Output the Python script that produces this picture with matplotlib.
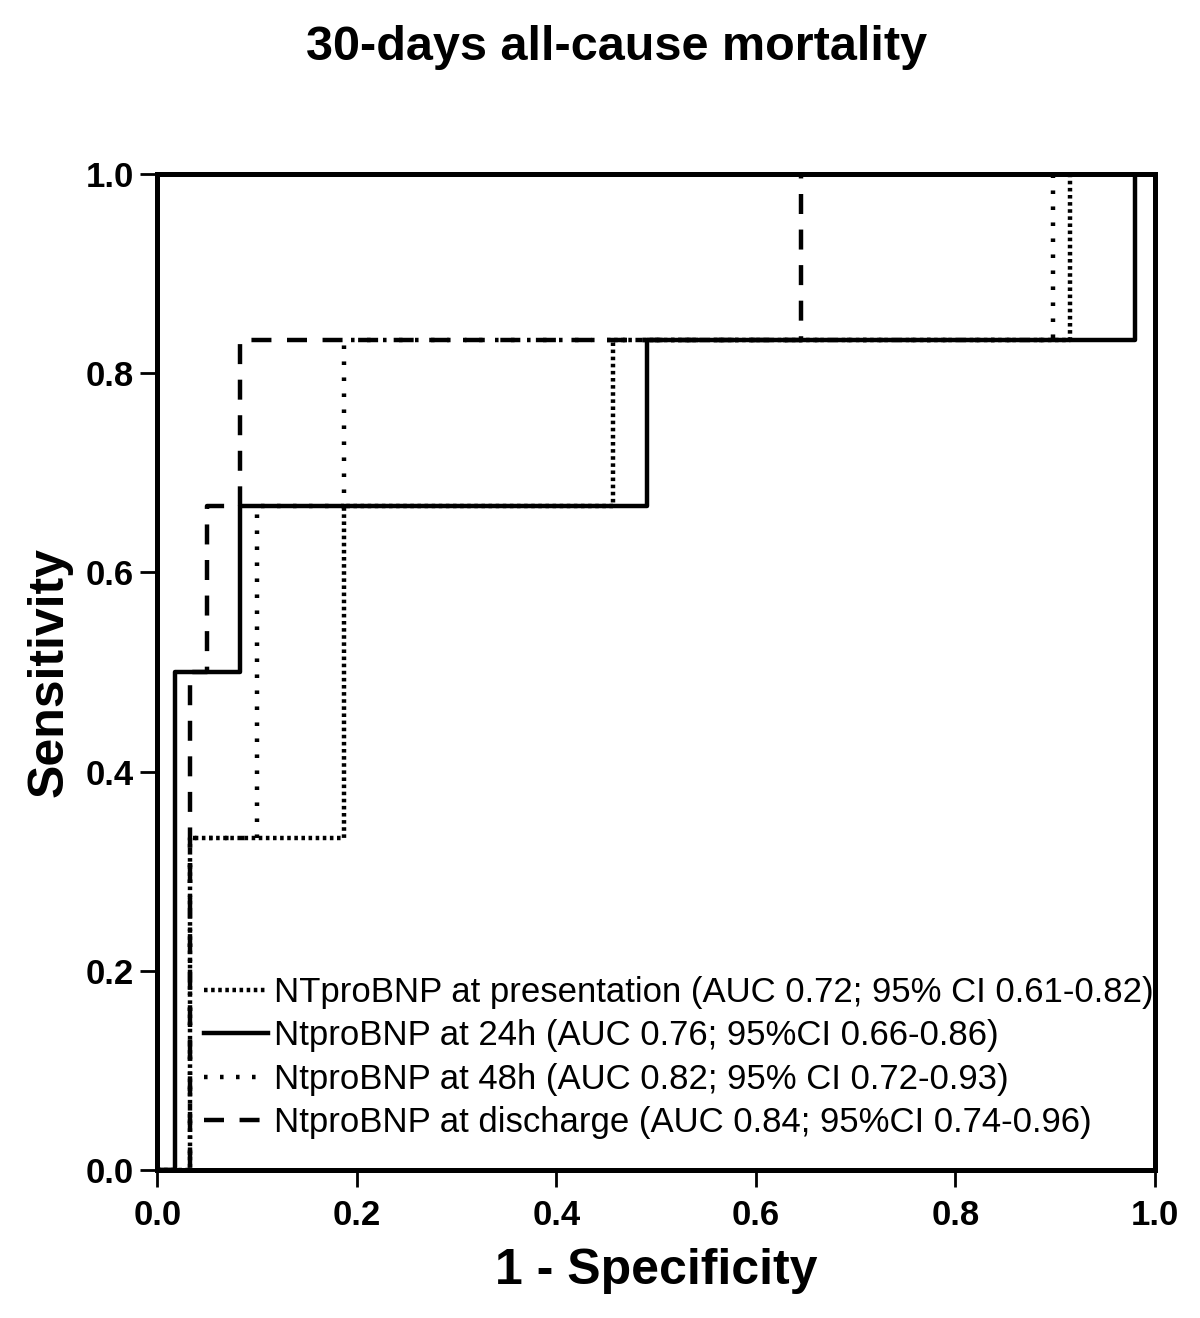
import numpy as np
import matplotlib
matplotlib.use('Agg')
import matplotlib.pyplot as plt

plt.rcParams['font.family'] = ['Liberation Sans', 'DejaVu Sans']

# ROC 곡선 데이터
pres_x = [0, 0.033, 0.033, 0.187, 0.187, 0.457, 0.457, 0.915, 0.915, 1.0]
pres_y = [0, 0, 0.333, 0.333, 0.667, 0.667, 0.833, 0.833, 1.0, 1.0]

h24_x = [0, 0.018, 0.018, 0.083, 0.083, 0.491, 0.491, 0.98, 0.98, 1.0]
h24_y = [0, 0, 0.5, 0.5, 0.667, 0.667, 0.833, 0.833, 1.0, 1.0]

h48_x = [0, 0.033, 0.033, 0.1, 0.1, 0.187, 0.187, 0.898, 0.898, 1.0]
h48_y = [0, 0, 0.333, 0.333, 0.667, 0.667, 0.833, 0.833, 1.0, 1.0]

dis_x = [0, 0.033, 0.033, 0.05, 0.05, 0.083, 0.083, 0.645, 0.645, 1.0]
dis_y = [0, 0, 0.5, 0.5, 0.667, 0.667, 0.833, 0.833, 1.0, 1.0]

labels = [
    'NTproBNP at presentation (AUC 0.72; 95% CI 0.61-0.82)',
    'NtproBNP at 24h (AUC 0.76; 95%CI 0.66-0.86)',
    'NtproBNP at 48h (AUC 0.82; 95% CI 0.72-0.93)',
    'NtproBNP at discharge (AUC 0.84; 95%CI 0.74-0.96)',
]
ticks = [0.0, 0.2, 0.4, 0.6, 0.8, 1.0]

fig = plt.figure(figsize=(12, 13.18), dpi=100)
ax = fig.add_axes([0.131, 0.1123, 0.8315, 0.7557])

lw = 3.2
ax.plot(pres_x, pres_y, color='black', lw=lw, linestyle=(0, (0.8, 0.8)), label=labels[0])
ax.plot(h24_x, h24_y, color='black', lw=lw, linestyle='-', label=labels[1])
ax.plot(h48_x, h48_y, color='black', lw=lw, linestyle=(0, (0.8, 2.8)), label=labels[2])
ax.plot(dis_x, dis_y, color='black', lw=lw, linestyle=(0, (4.5, 3.5)), label=labels[3])

ax.set_xlim(0, 1)
ax.set_ylim(0, 1)
ax.set_xticks(ticks)
ax.set_yticks(ticks)
ax.set_xticklabels([f'{t:.1f}' for t in ticks], fontsize=25, fontweight='bold')
ax.set_yticklabels([f'{t:.1f}' for t in ticks], fontsize=25, fontweight='bold')
ax.tick_params(direction='out', length=12, width=2, pad=5)
ax.tick_params(axis='x', pad=9)
for s in ax.spines.values():
    s.set_linewidth(3.6)

ax.set_xlabel('1 - Specificity', fontsize=36, fontweight='bold')
ax.set_ylabel('Sensitivity', fontsize=36, fontweight='bold')
ax.xaxis.set_label_coords(0.5, -0.078)
ax.yaxis.set_label_coords(-0.085, 0.5)
fig.text(0.514, 0.964, '30-days all-cause mortality', fontsize=35,
         fontweight='bold', ha='center', va='center')

ax.legend(loc='lower left', bbox_to_anchor=(0.047, 0.031), frameon=False,
          fontsize=25, handlelength=1.85, handletextpad=0.15, labelspacing=0.3,
          borderaxespad=0, borderpad=0)

plt.savefig('out.png', dpi=100)
